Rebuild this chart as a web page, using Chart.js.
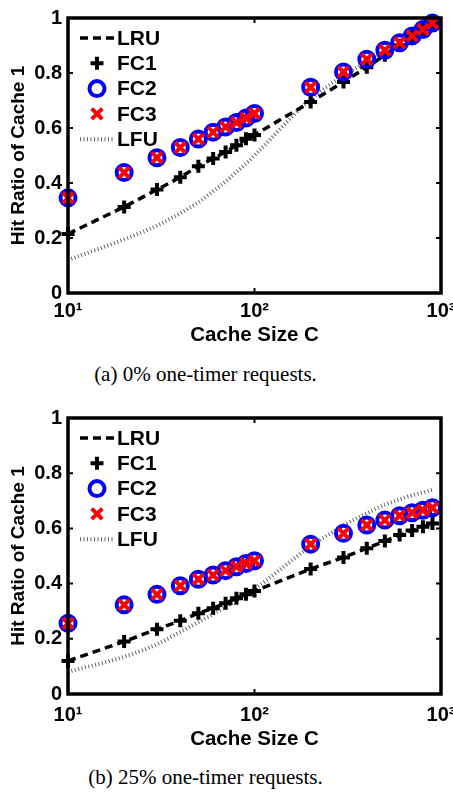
<!DOCTYPE html>
<html>
<head>
<meta charset="utf-8">
<script src="https://cdn.jsdelivr.net/npm/chart.js@4.4.1/dist/chart.umd.min.js"></script>
<style>
    body { margin: 0; background: #fff; width: 453px; height: 793px; position: relative; overflow: hidden; }
    canvas { position: absolute; left: 0; }
    .leyenda { position: absolute; left: 0; width: 411px; text-align: center; color: #000;
               font-family: "Liberation Serif", "Times New Roman", serif; font-size: 21px; }
</style>
</head>
<body>
<canvas id="graficoA" width="453" height="355" style="top:0"></canvas>
<div class="leyenda" style="top:362px">(a) 0% one-timer requests.</div>
<canvas id="graficoB" width="453" height="355" style="top:400px"></canvas>
<div class="leyenda" style="top:765px">(b) 25% one-timer requests.</div>

<script>
// Tamaños de cache (eje x, logarítmico)
const tamanos = [10, 20, 30, 40, 50, 60, 70, 80, 90, 100, 200, 300, 400, 500, 600, 700, 800, 900];
const ticksX = [10, 100, 1000];
const etiquetasX = { 10: '10¹', 100: '10²', 1000: '10³' };
const ticksY = [0, 0.2, 0.4, 0.6, 0.8, 1];

// (a) 0% one-timer
const lruA = [0.215, 0.313, 0.376, 0.421, 0.461, 0.489, 0.513, 0.537, 0.559, 0.575, 0.695, 0.767, 0.821, 0.865, 0.901, 0.934, 0.960, 0.982];
const fc1A = [0.215, 0.313, 0.376, 0.421, 0.461, 0.489, 0.513, 0.537, 0.561, 0.575, 0.695, 0.767, 0.821, 0.865, 0.901, 0.934, 0.960, 0.982];
const fc2A = [0.346, 0.438, 0.492, 0.529, 0.560, 0.585, 0.604, 0.620, 0.636, 0.653, 0.748, 0.804, 0.850, 0.883, 0.910, 0.935, 0.958, 0.982];
const fc3A = [0.346, 0.438, 0.492, 0.529, 0.560, 0.585, 0.604, 0.620, 0.636, 0.653, 0.748, 0.804, 0.850, 0.883, 0.910, 0.935, 0.958, 0.982];
const lfuA = [0.120, 0.195, 0.245, 0.290, 0.330, 0.370, 0.405, 0.440, 0.470, 0.500, 0.705, 0.790, 0.840, 0.875, 0.905, 0.930, 0.955, 0.975];

// (b) 25% one-timer
const lruB = [0.120, 0.190, 0.235, 0.265, 0.293, 0.311, 0.329, 0.347, 0.361, 0.373, 0.453, 0.495, 0.528, 0.554, 0.576, 0.592, 0.606, 0.618];
const fc1B = [0.120, 0.190, 0.235, 0.265, 0.293, 0.311, 0.329, 0.347, 0.361, 0.373, 0.453, 0.495, 0.528, 0.554, 0.576, 0.592, 0.606, 0.618];
const fc2B = [0.256, 0.323, 0.361, 0.392, 0.416, 0.431, 0.447, 0.461, 0.473, 0.483, 0.543, 0.582, 0.612, 0.630, 0.646, 0.657, 0.666, 0.675];
const fc3B = [0.256, 0.323, 0.361, 0.392, 0.416, 0.431, 0.447, 0.461, 0.473, 0.483, 0.543, 0.582, 0.612, 0.630, 0.646, 0.657, 0.666, 0.675];
const lfuB = [0.080, 0.135, 0.180, 0.225, 0.260, 0.290, 0.315, 0.340, 0.360, 0.380, 0.535, 0.610, 0.655, 0.685, 0.705, 0.720, 0.730, 0.740];

const FUENTE = '"Liberation Sans", Arial, Helvetica, sans-serif';

const puntos = arr => tamanos.map((c, i) => ({ x: c, y: arr[i] }));

// Marco, marcas interiores y leyenda dentro del área
const marco = {
    id: 'marco',
    afterDraw(chart) {
        const { ctx, chartArea: a, scales } = chart;
        ctx.save();
        ctx.strokeStyle = '#000';
        ctx.setLineDash([]);

        // marcas hacia dentro
        ctx.lineWidth = 2;
        ctx.beginPath();
        ticksY.slice(1, -1).forEach(v => {
            const y = scales.y.getPixelForValue(v);
            ctx.moveTo(a.left, y); ctx.lineTo(a.left + 5, y);
            ctx.moveTo(a.right, y); ctx.lineTo(a.right - 5, y);
        });
        const x100 = scales.x.getPixelForValue(100);
        ctx.moveTo(x100, a.top); ctx.lineTo(x100, a.top + 5);
        ctx.moveTo(x100, a.bottom); ctx.lineTo(x100, a.bottom - 5);
        ctx.stroke();

        ctx.lineWidth = 3.5;
        ctx.strokeRect(a.left, a.top, a.right - a.left, a.bottom - a.top);

        // leyenda
        ctx.font = 'bold 21px ' + FUENTE;
        ctx.textBaseline = 'middle';
        ctx.textAlign = 'left';
        chart.data.datasets.forEach((ds, i) => {
            const y = a.top + 20 + i * 25.3;
            const xm = a.left + 29;
            if (ds.showLine !== false) {
                ctx.save();
                ctx.strokeStyle = ds.borderColor;
                ctx.lineWidth = ds.borderWidth;
                ctx.setLineDash(ds.borderDash || []);
                ctx.beginPath();
                ctx.moveTo(a.left + 12, y);
                ctx.lineTo(a.left + 47, y);
                ctx.stroke();
                ctx.restore();
            } else {
                ctx.save();
                ctx.strokeStyle = ds.pointBorderColor;
                ctx.fillStyle = ds.pointBackgroundColor;
                ctx.lineWidth = ds.pointBorderWidth;
                Chart.helpers.drawPoint(ctx, {
                    pointStyle: ds.pointStyle, radius: ds.pointRadius,
                    borderWidth: ds.pointBorderWidth, rotation: 0
                }, xm, y);
                ctx.restore();
            }
            ctx.fillStyle = '#000';
            ctx.fillText(ds.label, a.left + 49, y + 1);
        });
        ctx.restore();
    }
};

function crearGrafico(id, lru, fc1, fc2, fc3, lfu, padArriba, altoEjeX, padTicks, padTitulo) {
    return new Chart(document.getElementById(id), {
        type: 'line',
        data: {
            datasets: [
                { label: 'LRU', data: puntos(lru), borderColor: '#000', borderWidth: 3.5, borderDash: [8, 5],
                  pointRadius: 0, order: 3, clip: false },
                { label: 'FC1', data: puntos(fc1), showLine: false, pointStyle: 'cross', pointRadius: 6.5,
                  pointBorderWidth: 4, pointBorderColor: '#000', pointBackgroundColor: '#000', order: 2, clip: false },
                { label: 'FC2', data: puntos(fc2), showLine: false, pointStyle: 'circle', pointRadius: 7.5,
                  pointBorderWidth: 4, pointBorderColor: '#0000ff', pointBackgroundColor: 'rgba(0,0,0,0)', order: 1, clip: false },
                { label: 'FC3', data: puntos(fc3), showLine: false, pointStyle: 'crossRot', pointRadius: 7.5,
                  pointBorderWidth: 4, pointBorderColor: '#ff0000', pointBackgroundColor: '#ff0000', order: 0, clip: false },
                { label: 'LFU', data: puntos(lfu), borderColor: '#666', borderWidth: 4, borderDash: [1, 2.5],
                  pointRadius: 0, cubicInterpolationMode: 'monotone', order: 4, clip: false }
            ]
        },
        options: {
            responsive: false,
            animation: false,
            events: [],
            layout: { padding: { top: padArriba, right: 12, left: 0, bottom: 0 } },
            plugins: { legend: { display: false }, tooltip: { enabled: false } },
            scales: {
                x: {
                    type: 'logarithmic', min: 10, max: 1000,
                    afterBuildTicks: s => { s.ticks = ticksX.map(v => ({ value: v })); },
                    afterFit: s => { s.height = altoEjeX; s.paddingLeft = 0; s.paddingRight = 0; },
                    grid: { display: false, drawTicks: false },
                    border: { display: false },
                    ticks: { autoSkip: false, maxRotation: 0, padding: padTicks, color: '#000',
                             font: { family: FUENTE, size: 20, weight: 'bold' },
                             callback: v => etiquetasX[v] || '' },
                    title: { display: true, text: 'Cache Size C', color: '#000',
                             font: { family: FUENTE, size: 20.5, weight: 'bold' },
                             padding: { top: 0, bottom: padTitulo } }
                },
                y: {
                    min: 0, max: 1,
                    afterBuildTicks: s => { s.ticks = ticksY.map(v => ({ value: v })); },
                    afterFit: s => { s.width = 68; },
                    grid: { display: false, drawTicks: false },
                    border: { display: false },
                    ticks: { padding: 6, color: '#000',
                             font: { family: FUENTE, size: 20, weight: 'bold' },
                             callback: v => String(+v.toFixed(1)) },
                    title: { display: true, text: 'Hit Ratio of Cache 1', color: '#000',
                             font: { family: FUENTE, size: 19, weight: 'bold' },
                             padding: { top: 7, bottom: 0 } }
                }
            }
        },
        plugins: [marco]
    });
}

crearGrafico('graficoA', lruA, fc1A, fc2A, fc3A, lfuA, 14, 62, 6, 7);
crearGrafico('graficoB', lruB, fc1B, fc2B, fc3B, lfuB, 18, 61, 9, 3);
</script>
</body>
</html>
